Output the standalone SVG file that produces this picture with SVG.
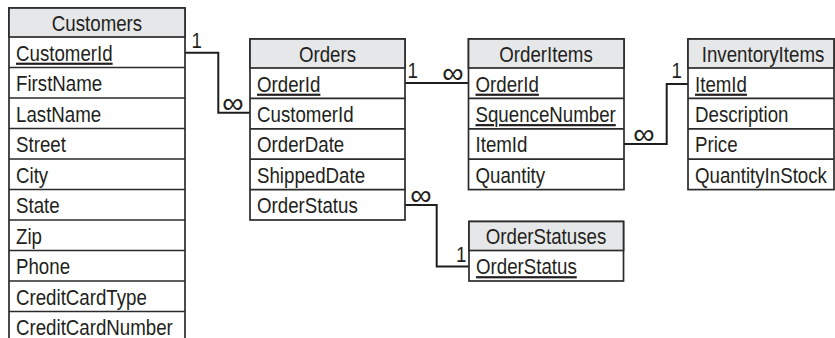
<svg xmlns="http://www.w3.org/2000/svg" width="835" height="338" viewBox="0 0 835 338">
<style>
.f{font-family:"Liberation Sans",Arial,sans-serif;font-size:22px;fill:#231f20}
.h{text-anchor:middle}
.u{text-decoration:underline}
.box{fill:#fff;stroke:#2b2b2b;stroke-width:1.7}
.hd{fill:#e6e7e8;stroke:#2b2b2b;stroke-width:1.7}
.dv{stroke:#2b2b2b;stroke-width:1.7}
.c{fill:none;stroke:#1e1e1e;stroke-width:2}
.inf{font-family:"Liberation Sans",Arial,sans-serif;font-size:30px;fill:#231f20;text-anchor:middle}
</style>
<rect width="835" height="338" fill="#fff"/>
<g id="connectors">
<polyline class="c" points="185,52.7 218.3,52.7 218.3,112.7 250,112.7"/>
<polyline class="c" points="405,83 468.5,83"/>
<polyline class="c" points="624,144 666.7,144 666.7,84 688,84"/>
<polyline class="c" points="405,205 436.7,205 436.7,266.5 469,266.5"/>
<text class="f" transform="translate(191.5,47.5) scale(0.85,1)">1</text>
<text class="inf" transform="translate(233,113)">∞</text>
<text class="f" transform="translate(407.5,77.5) scale(0.85,1)">1</text>
<text class="inf" transform="translate(453,83)">∞</text>
<text class="f" transform="translate(671.5,77.5) scale(0.85,1)">1</text>
<text class="inf" transform="translate(644,144)">∞</text>
<text class="f" transform="translate(456,262) scale(0.85,1)">1</text>
<text class="inf" transform="translate(421,205)">∞</text>
</g>
<g id="customers">
<rect class="box" x="9" y="8" width="176" height="340"/>
<rect class="hd" x="9" y="8" width="176" height="29"/>
<path class="dv" d="M9 67.5H185M9 98H185M9 128.5H185M9 159H185M9 189.5H185M9 220H185M9 250.5H185M9 281H185M9 311.5H185"/>
<text class="f h" transform="translate(97,30.5) scale(0.85,1)">Customers</text>
<text class="f u" transform="translate(16,60.5) scale(0.85,1)">CustomerId</text>
<text class="f" transform="translate(16,91) scale(0.85,1)">FirstName</text>
<text class="f" transform="translate(16,121.5) scale(0.85,1)">LastName</text>
<text class="f" transform="translate(16,152) scale(0.85,1)">Street</text>
<text class="f" transform="translate(16,182.5) scale(0.85,1)">City</text>
<text class="f" transform="translate(16,213) scale(0.85,1)">State</text>
<text class="f" transform="translate(16,243.5) scale(0.85,1)">Zip</text>
<text class="f" transform="translate(16,274) scale(0.85,1)">Phone</text>
<text class="f" transform="translate(16,304.5) scale(0.85,1)">CreditCardType</text>
<text class="f" transform="translate(16,335) scale(0.85,1)">CreditCardNumber</text>
</g>
<g id="orders">
<rect class="box" x="250" y="39" width="155" height="181"/>
<rect class="hd" x="250" y="39" width="155" height="29"/>
<path class="dv" d="M250 98.4H405M250 128.8H405M250 159.2H405M250 189.6H405"/>
<text class="f h" transform="translate(327.5,61.5) scale(0.85,1)">Orders</text>
<text class="f u" transform="translate(257,91.5) scale(0.85,1)">OrderId</text>
<text class="f" transform="translate(257,121.9) scale(0.85,1)">CustomerId</text>
<text class="f" transform="translate(257,152.3) scale(0.85,1)">OrderDate</text>
<text class="f" transform="translate(257,182.7) scale(0.85,1)">ShippedDate</text>
<text class="f" transform="translate(257,213.1) scale(0.85,1)">OrderStatus</text>
</g>
<g id="orderitems">
<rect class="box" x="468.5" y="39" width="155.5" height="150.6"/>
<rect class="hd" x="468.5" y="39" width="155.5" height="29"/>
<path class="dv" d="M468.5 98.4H624M468.5 128.8H624M468.5 159.2H624"/>
<text class="f h" transform="translate(546,61.5) scale(0.85,1)">OrderItems</text>
<text class="f u" transform="translate(475.5,91.5) scale(0.85,1)">OrderId</text>
<text class="f u" transform="translate(475.5,121.9) scale(0.85,1)">SquenceNumber</text>
<text class="f" transform="translate(475.5,152.3) scale(0.85,1)">ItemId</text>
<text class="f" transform="translate(475.5,182.7) scale(0.85,1)">Quantity</text>
</g>
<g id="inventoryitems">
<rect class="box" x="688" y="39" width="146" height="150.6"/>
<rect class="hd" x="688" y="39" width="146" height="29"/>
<path class="dv" d="M688 98.4H834M688 128.8H834M688 159.2H834"/>
<text class="f h" transform="translate(763,61.5) scale(0.85,1)">InventoryItems</text>
<text class="f u" transform="translate(695,91.5) scale(0.85,1)">ItemId</text>
<text class="f" transform="translate(695,121.9) scale(0.85,1)">Description</text>
<text class="f" transform="translate(695,152.3) scale(0.85,1)">Price</text>
<text class="f" transform="translate(695,182.7) scale(0.85,1)">QuantityInStock</text>
</g>
<g id="orderstatuses">
<rect class="box" x="469" y="221.5" width="154.5" height="59.5"/>
<rect class="hd" x="469" y="221.5" width="154.5" height="29"/>
<text class="f h" transform="translate(546,244) scale(0.85,1)">OrderStatuses</text>
<text class="f u" transform="translate(476,274) scale(0.85,1)">OrderStatus</text>
</g>
</svg>
